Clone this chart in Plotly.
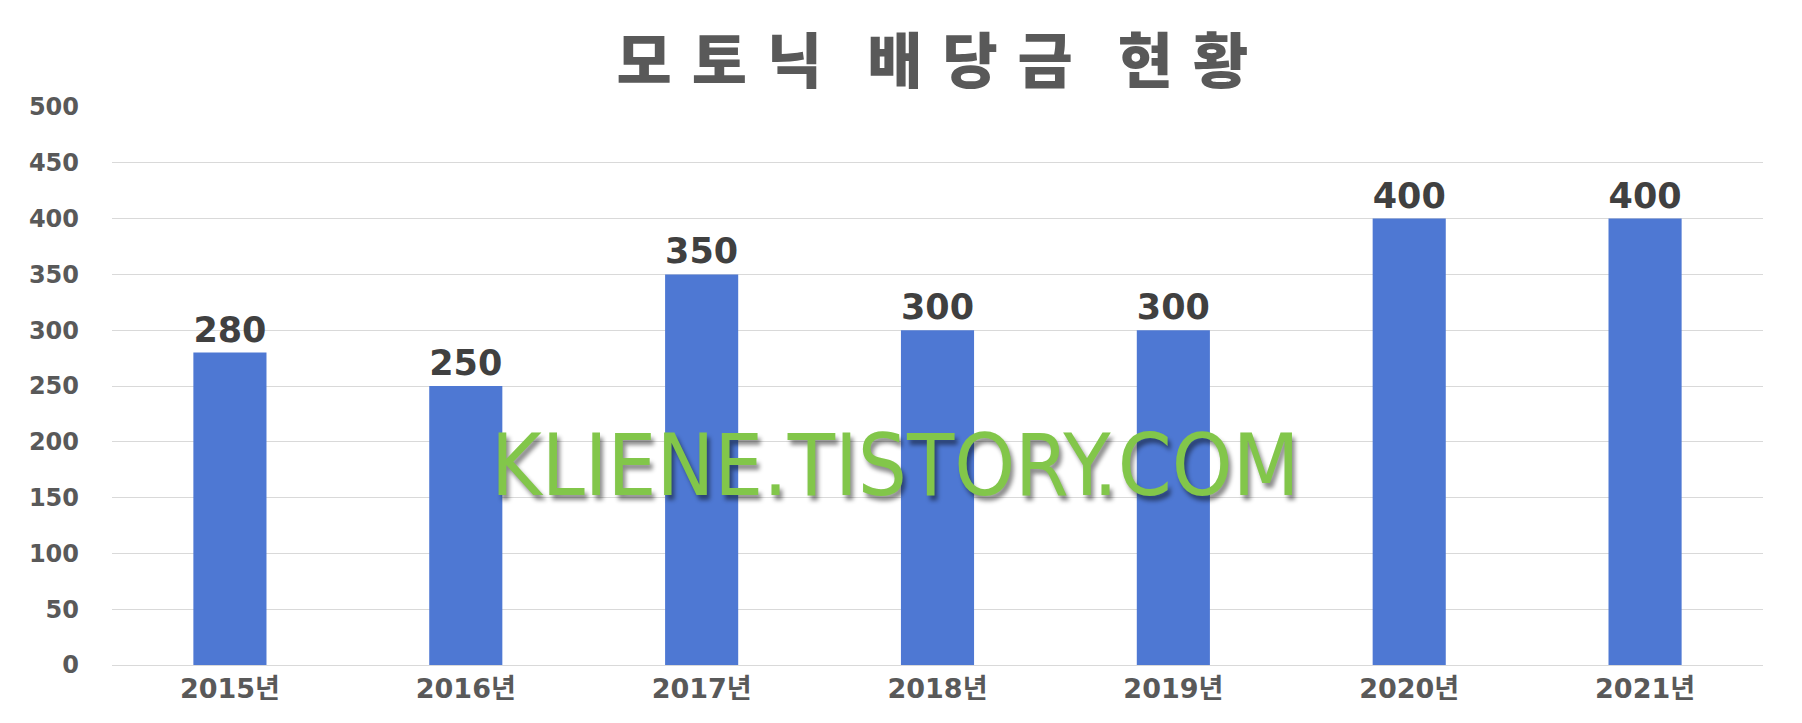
import plotly.graph_objects as go

years = ['2015년', '2016년', '2017년', '2018년', '2019년', '2020년', '2021년']
dividends = [280, 250, 350, 300, 300, 400, 400]
y_ticks = [0, 50, 100, 150, 200, 250, 300, 350, 400, 450, 500]

font_num = 'DejaVu Sans, Noto Sans CJK KR'
font_kr = 'Noto Sans CJK KR'

# 제목 글자 간격을 넓게 (원본처럼)
title_words = ['모토닉', '배당금', '현황']
title_text = '\u2002\u2005'.join('\u2004'.join(w) for w in title_words)

fig = go.Figure()

fig.add_trace(go.Bar(x=years, y=dividends, marker=dict(color='#4e78d3', line=dict(width=0)),
                     text=dividends, textposition='outside', cliponaxis=False,
                     textfont=dict(family=font_num, size=35, color='#404040', weight='bold')))

# 워터마크
fig.add_annotation(text='KLIENE.TISTORY.COM', xref='paper', yref='paper', x=0.474, y=0.358,
                   showarrow=False,
                   font=dict(family='DejaVu Sans Condensed, Liberation Sans Narrow, sans-serif',
                             size=86, color='#82c64a',
                             shadow='3px 5px 4px rgba(0,0,0,0.45)'))

fig.update_layout(
    width=1802, height=723,
    title=dict(text=title_text, x=0.513, xanchor='center', y=0.925, yanchor='middle',
               font=dict(family=font_kr, size=60, color='#595959', weight=900)),
    plot_bgcolor='white', paper_bgcolor='white',
    margin=dict(l=104, r=47, t=99, b=66),
    bargap=0.69,
    showlegend=False,
    xaxis=dict(showgrid=False, showline=True, linecolor='#d9d9d9', linewidth=1, ticks='',
               tickfont=dict(family=font_num, size=27, color='#595959', weight='bold')),
    yaxis=dict(range=[0, 500], tickvals=y_ticks, showgrid=True, gridcolor='#d9d9d9', gridwidth=1,
               zeroline=False, ticks='', ticklabelstandoff=32,
               tickfont=dict(family=font_num, size=24, color='#595959', weight='bold')),
)

fig.write_html('out.html')
